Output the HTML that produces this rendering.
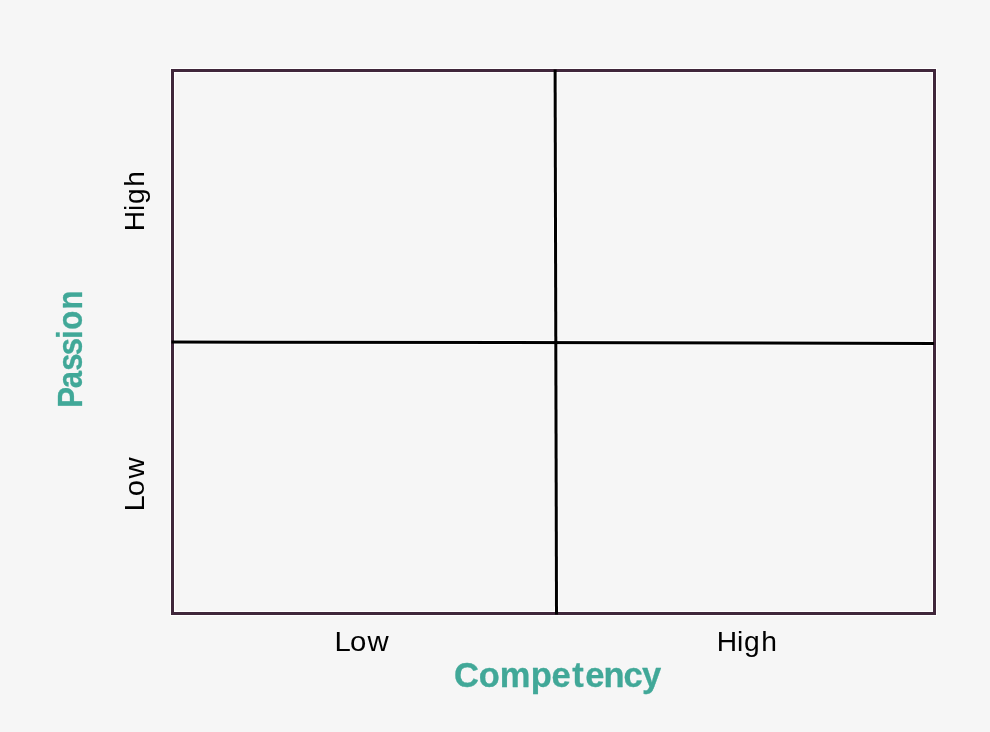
<!DOCTYPE html>
<html lang="en">
<head>
<meta charset="utf-8">
<title>Passion / Competency matrix</title>
<style>
  html, body { margin: 0; padding: 0; background: #f6f6f6; }
  body { width: 990px; height: 732px; overflow: hidden; position: relative; font-family: "Liberation Sans", sans-serif; }
  svg { position: absolute; left: 0; top: 0; display: block; }
  .lbl { font-family: "Liberation Sans", sans-serif; font-size: 28.2px; fill: #000; }
  .ttl { font-family: "Liberation Sans", sans-serif; font-size: 34.5px; font-weight: bold; fill: #41a898; stroke: #41a898; stroke-width: 0.3px; stroke-linejoin: round; }
</style>
</head>
<body>
<svg width="990" height="732" viewBox="0 0 990 732">
  <rect x="0" y="0" width="990" height="732" fill="#f6f6f6"/>
  <!-- white halo -->
  <rect x="172.5" y="70.5" width="762" height="543" fill="none" stroke="#ffffff" stroke-width="5"/>
  <line x1="172" y1="342" x2="934" y2="343.4" stroke="#ffffff" stroke-width="5"/>
  <line x1="555.1" y1="70" x2="556.5" y2="614" stroke="#ffffff" stroke-width="5"/>
  <!-- frame -->
  <rect x="172.5" y="70.5" width="762" height="543" fill="none" stroke="#40273b" stroke-width="3"/>
  <!-- dividers -->
  <line x1="171.5" y1="342" x2="934" y2="343.4" stroke="#000" stroke-width="3"/>
  <line x1="555.1" y1="69.5" x2="556.5" y2="614.5" stroke="#000" stroke-width="3"/>
  <!-- x labels -->
  <text class="lbl" transform="translate(0 651.1) scale(1.04 1)" x="321.64 336.48 353.45" y="0">Low</text>
  <text class="lbl" transform="translate(0 651.1)" x="716.76 736.9 743.99 761.15" y="0">High</text>
  <text class="ttl" transform="translate(0 687.3)" x="454.04 478.83 499.75 530.68 551.44 572.18 585.34 603.38 623.39 641.99" y="0">Competency</text>
  <!-- y labels -->
  <text class="lbl" transform="translate(144.1 947.9) rotate(-90)" x="716.76 736.9 743.99 761.15" y="0">High</text>
  <text class="lbl" transform="translate(144.1 846.1) rotate(-90) scale(1.04 1)" x="321.64 336.48 353.45" y="0">Low</text>
  <text class="ttl" transform="translate(81.5 405.3) rotate(-90) scale(0.9 1)" x="-2.74 18.99 38.51 55.73 73.62 83.87 106.59" y="0">Passion</text>
</svg>
</body>
</html>
